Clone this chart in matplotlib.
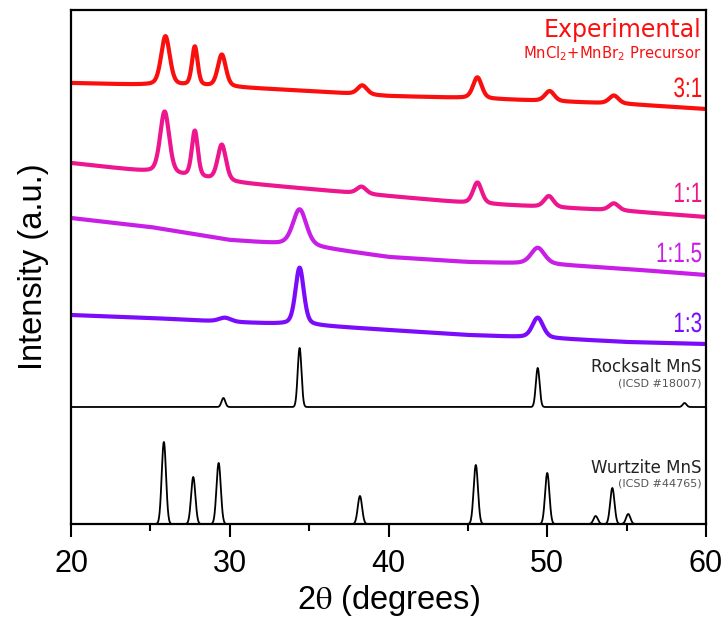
"""
XRD patterns - MnS from MnCl2 + MnBr2 precursor ratios
with rocksalt and wurtzite MnS references
"""

import numpy as np
import matplotlib.pyplot as plt
import matplotlib.transforms as mtransforms
from matplotlib.textpath import TextPath
from matplotlib.patches import PathPatch
from matplotlib.font_manager import FontProperties

plt.rcParams['font.family'] = ['Liberation Sans', 'DejaVu Sans']
plt.rcParams['mathtext.fontset'] = 'stix'

# 2theta grid
tt = np.linspace(20, 60, 4001)

# sloping backgrounds of the experimental scans (offset units, read at 5 deg steps)
bg_x = [20, 25, 30, 35, 40, 45, 50, 55, 60]
bg_31 = [441, 439, 437, 433, 428, 426, 423, 420, 415]
bg_11 = [361, 352, 342, 335, 328, 321, 317, 313, 307]
bg_115 = [306, 297, 284, 278, 267, 262, 260, 255, 249]
bg_13 = [209, 206, 202, 199, 194, 189, 186, 182, 180]

# peaks: position (deg), height, fwhm (deg)
pk_31 = [(25.95, 49, 0.65), (27.8, 39, 0.42), (29.5, 32, 0.6), (38.35, 9, 0.7),
         (45.6, 21, 0.65), (50.15, 10, 0.7), (54.2, 8, 0.7)]
pk_11 = [(25.9, 62, 0.68), (27.8, 46, 0.45), (29.5, 36, 0.62), (38.3, 7, 0.7),
         (45.6, 21, 0.65), (50.1, 11, 0.7), (54.2, 7, 0.7)]
pk_115 = [(34.4, 36, 1.0), (49.4, 16, 1.0)]
pk_13 = [(29.7, 4, 0.9), (34.4, 57, 0.62), (49.4, 20, 0.8)]

rock_base = 117
pk_rock = [(29.6, 9, 0.28), (34.4, 59, 0.28), (49.4, 39, 0.28), (58.65, 4, 0.28)]
wurtz_base = 0
pk_wurtz = [(25.85, 82, 0.32), (27.7, 47, 0.32), (29.3, 61, 0.32), (38.2, 28, 0.32),
            (45.5, 59, 0.32), (50.0, 51, 0.32), (53.05, 8, 0.32), (54.1, 36, 0.32),
            (55.1, 10, 0.32)]

ratios = ['3:1', '1:1', '1:1.5', '1:3']
colors = ['#fa0f0f', '#ee168e', '#c81ee6', '#7b0cfb']
label_y = [427, 322, 262, 192]


def profile(peaks, eta=0.0):
    y = np.zeros_like(tt)
    for c, h, w in peaks:
        g = np.exp(-4 * np.log(2) * ((tt - c) / w) ** 2)
        l = 1 / (1 + 4 * ((tt - c) / w) ** 2)
        y += h * ((1 - eta) * g + eta * l)
    return y


def narrow_text(ax, x, y, s, color, size_px=28, squeeze=0.74):
    # right-aligned, horizontally condensed text drawn as a path
    tp = TextPath((0, 0), s, size=size_px, prop=FontProperties(family='Liberation Sans'))
    w = tp.get_extents().x1
    tr = (mtransforms.Affine2D().translate(-w, 0).scale(squeeze, 1)
          + mtransforms.ScaledTranslation(x, y, ax.transData))
    ax.add_patch(PathPatch(tp, transform=tr, facecolor=color, lw=0, clip_on=False))


fig = plt.figure(figsize=(7.26, 6.2), dpi=100)
ax = fig.add_axes([71 / 726, 96 / 620, 635 / 726, 514 / 620])

backgrounds = [bg_31, bg_11, bg_115, bg_13]
peak_sets = [pk_31, pk_11, pk_115, pk_13]
for bg, pk, col in zip(backgrounds, peak_sets, colors):
    y = np.interp(tt, bg_x, bg) + profile(pk, eta=0.35)
    ax.plot(tt, y, color=col, lw=3.0, solid_joinstyle='round')

ax.plot(tt, rock_base + profile(pk_rock), color='black', lw=1.3)
ax.plot(tt, wurtz_base + profile(pk_wurtz), color='black', lw=1.3, clip_on=False)

# labels on the right
xr = 59.7
for r, col, yl in zip(ratios, colors, label_y):
    narrow_text(ax, xr, yl, r, col)

ax.text(xr, 487, 'Experimental', color='#fa0f0f', fontsize=17,
        family='DejaVu Sans', ha='right', va='baseline')
ax.text(xr, 466, 'MnCl$_2$+MnBr$_2$ Precursor', color='#fa0f0f', fontsize=10.6,
        family='DejaVu Sans', math_fontfamily='dejavusans', ha='right', va='baseline')
ax.text(xr, 152, 'Rocksalt MnS', color='#222222', fontsize=12,
        family='DejaVu Sans', ha='right', va='baseline')
ax.text(xr, 138, '(ICSD #18007)', color='#555555', fontsize=8,
        family='DejaVu Sans', ha='right', va='baseline')
ax.text(xr, 51, 'Wurtzite MnS', color='#222222', fontsize=12,
        family='DejaVu Sans', ha='right', va='baseline')
ax.text(xr, 37, '(ICSD #44765)', color='#555555', fontsize=8,
        family='DejaVu Sans', ha='right', va='baseline')

ax.set_xlim(20, 60)
ax.set_ylim(0, 514)
ax.set_xticks([20, 30, 40, 50, 60])
ax.set_xticks([25, 35, 45, 55], minor=True)
ax.set_yticks([])
ax.tick_params(axis='x', which='major', direction='out', length=9, width=1.5,
               labelsize=22, pad=9)
ax.tick_params(axis='x', which='minor', direction='out', length=5, width=1.5)
for s in ax.spines.values():
    s.set_linewidth(1.6)

ax.set_xlabel(r'2$\mathrm{\theta}$ (degrees)', fontsize=23.5, labelpad=3)
ax.set_ylabel('Intensity (a.u.)', fontsize=23.5, labelpad=16)

fig.savefig('out.png', dpi=100)
plt.close(fig)
